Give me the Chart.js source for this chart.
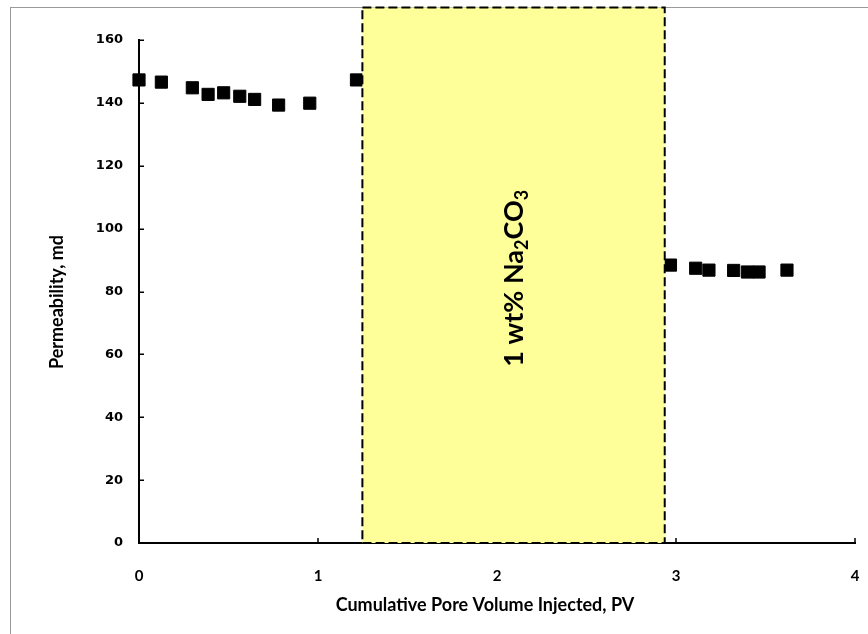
<!DOCTYPE html>
<html>
<head>
<meta charset="utf-8">
<script src="https://cdn.jsdelivr.net/npm/chart.js@4.4.1/dist/chart.umd.min.js"></script>
<style>
  html, body { margin: 0; padding: 0; background: #fff; overflow: hidden; }
  canvas { display: block; }
</style>
</head>
<body>
<canvas id="chart" width="868" height="634"></canvas>
<script>
// Permeability before the alkaline slug
const pvBefore = [0, 0.125, 0.298, 0.386, 0.473, 0.563, 0.646, 0.780, 0.954, 1.215];
const permBefore = [147.3, 146.6, 144.8, 142.7, 143.2, 142.1, 141.1, 139.3, 139.9, 147.3];

// Permeability after the alkaline slug
const pvAfter = [2.969, 3.110, 3.184, 3.322, 3.399, 3.464, 3.620];
const permAfter = [88.4, 87.4, 86.8, 86.7, 86.2, 86.2, 86.8];

// Pore-volume interval of the Na2CO3 injection
const slugRange = [1.248, 2.937];
const slugLabel = [['1 wt% Na', false], ['2', true], ['CO', false], ['3', true]];

// Axis ranges, tick steps and titles
const xRange = [0, 4], xStep = 1;
const yRange = [0, 160], yStep = 20;
const xTitle = 'Cumulative Pore Volume Injected, PV';
const yTitle = 'Permeability, md';

const toPoints = (xs, ys) => xs.map((x, i) => ({ x: x, y: ys[i] }));

const FRAME_TOP = 7.5;
const TITLE_FONT = 'bold 18px Lato, "Noto Sans", sans-serif';

const decorations = {
  id: 'decorations',
  beforeDraw(chart) {
    const ctx = chart.ctx;
    ctx.save();
    ctx.fillStyle = '#ffffff';
    ctx.fillRect(0, 0, chart.width, chart.height);
    ctx.strokeStyle = '#9a9a9a';
    ctx.lineWidth = 1;
    ctx.strokeRect(10.5, FRAME_TOP, chart.width + 40, chart.height + 40);

    // axis titles
    ctx.fillStyle = '#000';
    ctx.font = TITLE_FONT;
    ctx.textAlign = 'center';
    ctx.textBaseline = 'middle';
    ctx.fillText(xTitle, 485, 605);
    ctx.translate(57, 302);
    ctx.rotate(-Math.PI / 2);
    ctx.fillText(yTitle, 0, 0);
    ctx.restore();
  },
  beforeDatasetsDraw(chart) {
    // inward tick marks on both axes
    const ctx = chart.ctx;
    const xs = chart.scales.x, ys = chart.scales.y;
    const area = chart.chartArea;
    ctx.save();
    ctx.strokeStyle = '#000';
    ctx.lineWidth = 1.5;
    ctx.beginPath();
    xs.ticks.forEach(t => {
      const px = Math.round(xs.getPixelForValue(t.value));
      ctx.moveTo(px, area.bottom);
      ctx.lineTo(px, area.bottom - 5);
    });
    ys.ticks.forEach(t => {
      const py = Math.round(ys.getPixelForValue(t.value)) + 0.25;
      ctx.moveTo(area.left, py);
      ctx.lineTo(area.left + 5, py);
    });
    ctx.stroke();
    ctx.restore();
  },
  afterDatasetsDraw(chart) {
    const ctx = chart.ctx;
    const xs = chart.scales.x, ys = chart.scales.y;
    const x0 = xs.getPixelForValue(slugRange[0]);
    const x1 = xs.getPixelForValue(slugRange[1]);
    const yb = ys.getPixelForValue(yRange[0]);
    const yt = FRAME_TOP;
    ctx.save();
    ctx.fillStyle = '#ffff99';
    ctx.fillRect(x0, yt, x1 - x0, yb - yt);
    ctx.setLineDash([9, 4]);
    ctx.lineWidth = 2;
    ctx.strokeStyle = '#000';
    ctx.strokeRect(x0, yt, x1 - x0, yb - yt);
    ctx.setLineDash([]);

    // vertical label with subscripts
    const big = 'bold 27px Lato, "Noto Sans", sans-serif';
    const small = 'bold 18px Lato, "Noto Sans", sans-serif';
    ctx.translate((x0 + x1) / 2, (yt + yb) / 2 + 3);
    ctx.rotate(-Math.PI / 2);
    let total = 0;
    slugLabel.forEach(p => {
      ctx.font = p[1] ? small : big;
      total += ctx.measureText(p[0]).width;
    });
    let cx = -total / 2;
    ctx.fillStyle = '#000';
    ctx.textBaseline = 'alphabetic';
    ctx.textAlign = 'left';
    slugLabel.forEach(p => {
      ctx.font = p[1] ? small : big;
      ctx.fillText(p[0], cx, p[1] ? 14 : 9.5);
      cx += ctx.measureText(p[0]).width;
    });
    ctx.restore();
  }
};

const markerStyle = {
  showLine: false,
  pointStyle: 'rect',
  pointRadius: 8.6,
  pointHoverRadius: 8.6,
  backgroundColor: '#000',
  borderColor: '#000',
  borderWidth: 1,
  clip: false
};

new Chart(document.getElementById('chart'), {
  type: 'scatter',
  data: {
    datasets: [
      Object.assign({ label: 'Before', data: toPoints(pvBefore, permBefore) }, markerStyle),
      Object.assign({ label: 'After', data: toPoints(pvAfter, permAfter) }, markerStyle)
    ]
  },
  options: {
    responsive: false,
    animation: false,
    devicePixelRatio: 1,
    layout: { padding: { left: 0, top: 40, right: 13, bottom: 0 } },
    plugins: { legend: { display: false }, tooltip: { enabled: false } },
    scales: {
      x: {
        type: 'linear',
        min: xRange[0],
        max: xRange[1],
        ticks: {
          stepSize: xStep,
          padding: 24,
          color: '#000',
          font: { family: 'Lato', weight: 'bold', size: 15 }
        },
        grid: { display: false, drawTicks: false },
        border: { display: true, color: '#000', width: 2 },
        title: { display: false },
        afterFit(scale) {
          scale.height = 91;
          scale.paddingLeft = 0;
          scale.paddingRight = 0;
        }
      },
      y: {
        type: 'linear',
        min: yRange[0],
        max: yRange[1],
        ticks: {
          stepSize: yStep,
          padding: 16,
          color: '#000',
          font: { family: 'DejaVu Sans', weight: 'bold', size: 13 }
        },
        grid: { display: false, drawTicks: false },
        border: { display: true, color: '#000', width: 2 },
        title: { display: false },
        afterFit(scale) {
          scale.width = 139;
          scale.paddingTop = 0;
          scale.paddingBottom = 0;
        }
      }
    }
  },
  plugins: [decorations]
});
</script>
</body>
</html>
